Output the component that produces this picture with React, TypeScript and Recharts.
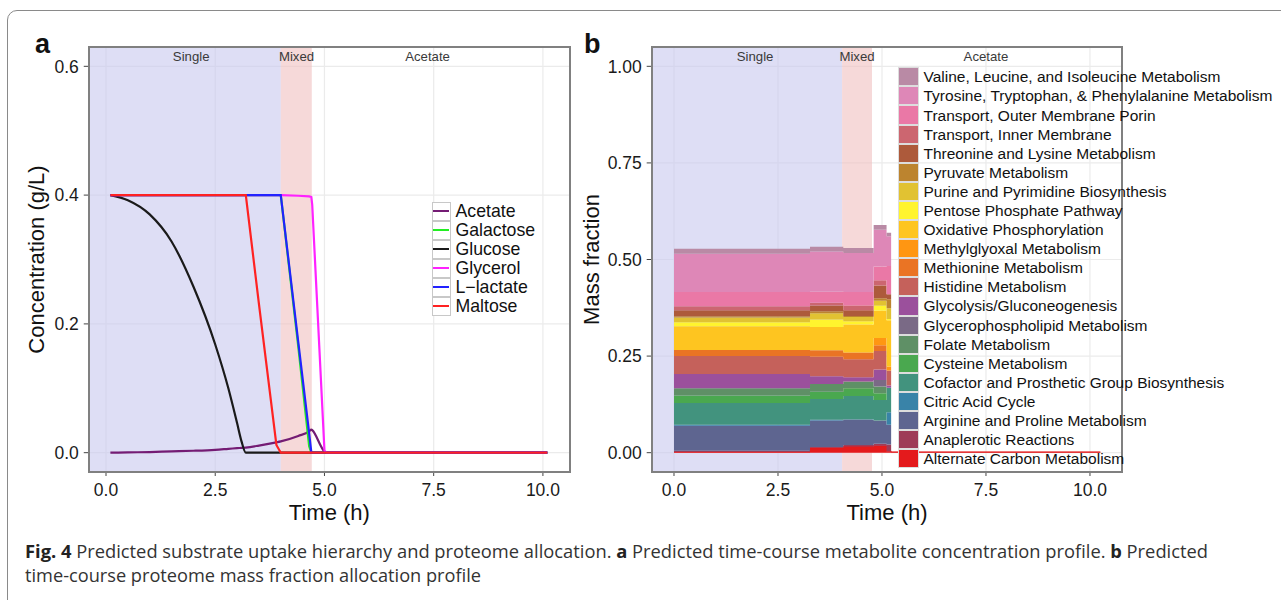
import React from "react";
import {
  ComposedChart,
  AreaChart,
  Area,
  Line,
  XAxis,
  YAxis,
  CartesianGrid,
  ReferenceArea,
  ReferenceLine,
} from "recharts";

const FONT = '"Liberation Sans", Arial, Helvetica, sans-serif';

// ---------- panel a: metabolite concentrations ----------
const timesA = [
  0.1, 0.5, 1.0, 1.5, 2.0, 2.5, 2.8, 3.0, 3.1, 3.2, 3.5, 3.9, 4.0, 4.4, 4.65,
  4.7, 4.72, 5.0, 5.05, 6.0, 7.5, 10.1,
];
const acetate = [
  0, 0.0005, 0.001, 0.002, 0.003, 0.0045, 0.006, 0.007, 0.0075, 0.008, 0.011,
  0.016, 0.0175, 0.026, 0.033, 0.036, 0.035, 0.002, 0, 0, 0, 0,
];
const galactose = [
  0.4, 0.4, 0.4, 0.4, 0.4, 0.4, 0.4, 0.4, 0.4, 0.4, 0.4, 0.4, 0.4, 0.165, 0.01,
  0, 0, 0, 0, 0, 0, 0,
];
const glucose = [
  0.4, 0.392, 0.37, 0.328, 0.258, 0.168, 0.1, 0.046, 0.018, 0, 0, 0, 0, 0, 0, 0,
  0, 0, 0, 0, 0, 0,
];
const glycerol = [
  0.4, 0.4, 0.4, 0.4, 0.4, 0.4, 0.4, 0.4, 0.4, 0.4, 0.4, 0.4, 0.4, 0.399, 0.398,
  0.397, 0.385, 0.003, 0, 0, 0, 0,
];
const lactate = [
  0.4, 0.4, 0.4, 0.4, 0.4, 0.4, 0.4, 0.4, 0.4, 0.4, 0.4, 0.4, 0.4, 0.172, 0.03,
  0, 0, 0, 0, 0, 0, 0,
];
const maltose = [
  0.4, 0.4, 0.4, 0.4, 0.4, 0.4, 0.4, 0.4, 0.4, 0.4, 0.231, 0.012, 0, 0, 0, 0,
  0, 0, 0, 0, 0, 0,
];

const seriesA = [
  { name: "Acetate", values: acetate, color: "#741c74", curve: "monotone" },
  { name: "Galactose", values: galactose, color: "#22ee22", curve: "linear" },
  { name: "Glucose", values: glucose, color: "#1a1a1a", curve: "monotone" },
  { name: "Glycerol", values: glycerol, color: "#ff22ff", curve: "linear" },
  { name: "L\u2212lactate", values: lactate, color: "#2222ff", curve: "linear" },
  { name: "Maltose", values: maltose, color: "#ff2222", curve: "linear" },
];

const rowsA = timesA.map((t, i) => {
  const row: Record<string, number> = { t };
  seriesA.forEach((s) => (row[s.name] = s.values[i]));
  return row;
});

// ---------- panel b: proteome mass fractions ----------
const timesB = [0, 3.27, 4.07, 4.8, 5.11, 5.22, 10.25];
const alternateCarbon = [0.002, 0.0126, 0.016, 0.018, 0.004, 0.002, 0.002];
const anaplerotic = [0.003, 0.002, 0.004, 0.005, 0.017, 0, 0];
const arginine = [0.065, 0.0684, 0.065, 0.06, 0.0515, 0, 0];
const citricAcid = [0.0022, 0.002, 0.0018, 0, 0.032, 0, 0];
const cofactor = [0.0567, 0.054, 0.0602, 0.0536, 0.0635, 0, 0];
const cysteine = [0.0188, 0.019, 0.0197, 0.0174, 0, 0, 0];
const folate = [0.019, 0.02, 0.0173, 0.017, 0, 0, 0];
const glycerophospholipid = [0, 0, 0, 0.017, 0, 0, 0];
const glycolysis = [0.0369, 0.02, 0.011, 0.0276, 0.006, 0, 0];
const histidine = [0.0464, 0.05, 0.047, 0.0474, 0.0386, 0, 0];
const methionine = [0.0155, 0.017, 0.0175, 0.015, 0, 0, 0];
const methylglyoxal = [0, 0, 0, 0.019, 0.0104, 0, 0];
const oxidative = [0.0615, 0.0605, 0.0725, 0.071, 0.12, 0, 0];
const pentose = [0.0106, 0.0195, 0.008, 0.012, 0.003, 0, 0];
const purine = [0.0124, 0.016, 0.011, 0.0135, 0.028, 0, 0];
const pyruvate = [0.003, 0.005, 0.003, 0.0065, 0.023, 0, 0];
const threonine = [0.0156, 0.015, 0.0146, 0.033, 0.013, 0, 0];
const innerMembrane = [0.0104, 0.007, 0.0124, 0.013, 0, 0, 0];
const outerPorin = [0.037, 0.0295, 0.035, 0.036, 0.073, 0, 0];
const tyrosine = [0.099, 0.1035, 0.101, 0.095, 0.0775, 0, 0];
const valine = [0.013, 0.012, 0.013, 0.012, 0.0085, 0, 0];

// bottom of the stack first
const layersB = [
  { name: "Alternate Carbon Metabolism", values: alternateCarbon, color: "#e41a1c" },
  { name: "Anaplerotic Reactions", values: anaplerotic, color: "#9e3b57" },
  { name: "Arginine and Proline Metabolism", values: arginine, color: "#5e6590" },
  { name: "Citric Acid Cycle", values: citricAcid, color: "#3983a8" },
  { name: "Cofactor and Prosthetic Group Biosynthesis", values: cofactor, color: "#42937e" },
  { name: "Cysteine Metabolism", values: cysteine, color: "#4aa84f" },
  { name: "Folate Metabolism", values: folate, color: "#5f9066" },
  { name: "Glycerophospholipid Metabolism", values: glycerophospholipid, color: "#7a6a86" },
  { name: "Glycolysis/Gluconeogenesis", values: glycolysis, color: "#9b509c" },
  { name: "Histidine Metabolism", values: histidine, color: "#c5615b" },
  { name: "Methionine Metabolism", values: methionine, color: "#ea7424" },
  { name: "Methylglyoxal Metabolism", values: methylglyoxal, color: "#ff9612" },
  { name: "Oxidative Phosphorylation", values: oxidative, color: "#fec520" },
  { name: "Pentose Phosphate Pathway", values: pentose, color: "#fff42e" },
  { name: "Purine and Pyrimidine Biosynthesis", values: purine, color: "#e1c232" },
  { name: "Pyruvate Metabolism", values: pyruvate, color: "#bc842f" },
  { name: "Threonine and Lysine Metabolism", values: threonine, color: "#ad5a3b" },
  { name: "Transport, Inner Membrane", values: innerMembrane, color: "#cc6670" },
  { name: "Transport, Outer Membrane Porin", values: outerPorin, color: "#ea78a6" },
  { name: "Tyrosine, Tryptophan, & Phenylalanine Metabolism", values: tyrosine, color: "#de87b7" },
  { name: "Valine, Leucine, and Isoleucine Metabolism", values: valine, color: "#b98aa5" },
];

const rowsB = timesB.map((t, i) => {
  const row: Record<string, number> = { t };
  layersB.forEach((l) => (row[l.name] = l.values[i]));
  return row;
});

// phases: [start, end] in hours, and where their labels sit
const phaseSingleA = [-0.395, 4.0];
const phaseMixedA = [4.0, 4.71];
const phaseSingleB = [-0.536, 4.04];
const phaseMixedB = [4.04, 4.76];
const phaseLabelsA = [
  { text: "Single", t: 1.95 },
  { text: "Mixed", t: 4.36 },
  { text: "Acetate", t: 7.36 },
];
const phaseLabelsB = [
  { text: "Single", t: 1.95 },
  { text: "Mixed", t: 4.4 },
  { text: "Acetate", t: 7.5 },
];

const xTicks = [0, 2.5, 5, 7.5, 10];
const yTicksA = [0, 0.2, 0.4, 0.6];
const yTicksB = [0, 0.25, 0.5, 0.75, 1];

const tickStyle = { fontSize: 17.5, fill: "#1a1a1a", fontFamily: FONT };
const SINGLE_FILL = "#c8c8ee";
const MIXED_FILL = "#f0c0c0";

const phaseLabelStyle = {
  position: "insideTop" as const,
  offset: 5,
  fontSize: 13.2,
  fill: "#3a3a3a",
  fontFamily: FONT,
};

function PanelA() {
  return (
    <div style={{ position: "absolute", left: 0, top: 0 }}>
      <ComposedChart
        width={600}
        height={530}
        data={rowsA}
        margin={{ top: 47, right: 30, bottom: 0, left: 28.75 }}
      >
        <CartesianGrid stroke="#ebebeb" strokeWidth={1.2} />
        <ReferenceArea
          x1={phaseSingleA[0]}
          x2={phaseSingleA[1]}
          fill={SINGLE_FILL}
          fillOpacity={0.6}
          stroke="none"
        />
        <ReferenceArea
          x1={phaseMixedA[0]}
          x2={phaseMixedA[1]}
          fill={MIXED_FILL}
          fillOpacity={0.6}
          stroke="none"
        />
        {phaseLabelsA.map((p) => (
          <ReferenceLine
            key={p.text}
            x={p.t}
            stroke="none"
            label={{ value: p.text, ...phaseLabelStyle }}
          />
        ))}
        <XAxis
          dataKey="t"
          type="number"
          domain={[-0.395, 10.62]}
          ticks={xTicks}
          tickFormatter={(v: number) => v.toFixed(1)}
          allowDataOverflow
          height={58}
          axisLine={false}
          tickSize={4}
          tickMargin={8}
          tickLine={{ stroke: "#444" }}
          tick={tickStyle}
        />
        <YAxis
          type="number"
          domain={[-0.03, 0.63]}
          ticks={yTicksA}
          tickFormatter={(v: number) => v.toFixed(1)}
          allowDataOverflow
          width={60}
          axisLine={false}
          tickSize={5}
          tickMargin={5}
          tickLine={{ stroke: "#444" }}
          tick={tickStyle}
        />
        {seriesA.map((s) => (
          <Line
            key={s.name}
            dataKey={s.name}
            type={s.curve as "linear" | "monotone"}
            stroke={s.color}
            strokeWidth={2.2}
            dot={false}
            isAnimationActive={false}
          />
        ))}
      </ComposedChart>
      <div
        style={{
          position: "absolute",
          left: 88,
          top: 46,
          width: 483,
          height: 427,
          boxSizing: "border-box",
          border: "2px solid #808080",
        }}
      />
      <div style={{ position: "absolute", left: 431.5, top: 201.5 }}>
        {seriesA.map((s) => (
          <div key={s.name} style={{ display: "flex", alignItems: "center", height: 19 }}>
            <div
              style={{
                width: 19,
                height: 19,
                boxSizing: "border-box",
                border: "1.5px solid #c8c8c8",
                background: "#fff",
                display: "flex",
                alignItems: "center",
                justifyContent: "center",
              }}
            >
              <div style={{ width: 16, height: 2.6, background: s.color }} />
            </div>
            <span
              style={{
                marginLeft: 5,
                fontFamily: FONT,
                fontSize: 17.7,
                color: "#111",
                whiteSpace: "nowrap",
                lineHeight: "19px",
              }}
            >
              {s.name}
            </span>
          </div>
        ))}
      </div>
    </div>
  );
}

function PanelB() {
  return (
    <div style={{ position: "absolute", left: 560, top: 0 }}>
      <AreaChart
        width={600}
        height={530}
        data={rowsB}
        margin={{ top: 47, right: 38, bottom: 0, left: 31.7 }}
      >
        <CartesianGrid stroke="#ebebeb" strokeWidth={1.2} />
        <ReferenceArea
          x1={phaseSingleB[0]}
          x2={phaseSingleB[1]}
          fill={SINGLE_FILL}
          fillOpacity={0.6}
          stroke="none"
        />
        <ReferenceArea
          x1={phaseMixedB[0]}
          x2={phaseMixedB[1]}
          fill={MIXED_FILL}
          fillOpacity={0.6}
          stroke="none"
        />
        {phaseLabelsB.map((p) => (
          <ReferenceLine
            key={p.text}
            x={p.t}
            stroke="none"
            label={{ value: p.text, ...phaseLabelStyle }}
          />
        ))}
        <XAxis
          dataKey="t"
          type="number"
          domain={[-0.536, 10.77]}
          ticks={xTicks}
          tickFormatter={(v: number) => v.toFixed(1)}
          allowDataOverflow
          height={58}
          axisLine={false}
          tickSize={4}
          tickMargin={8}
          tickLine={{ stroke: "#444" }}
          tick={tickStyle}
        />
        <YAxis
          type="number"
          domain={[-0.05, 1.05]}
          ticks={yTicksB}
          tickFormatter={(v: number) => v.toFixed(2)}
          allowDataOverflow
          width={60}
          axisLine={false}
          tickSize={5}
          tickMargin={5}
          tickLine={{ stroke: "#444" }}
          tick={tickStyle}
        />
        {layersB.map((l, i) => (
          <Area
            key={l.name}
            dataKey={l.name}
            stackId="mass"
            type="stepAfter"
            fill={l.color}
            fillOpacity={1}
            stroke={i === 0 ? l.color : "none"}
            strokeWidth={i === 0 ? 1 : 0}
            isAnimationActive={false}
          />
        ))}
      </AreaChart>
      <div
        style={{
          position: "absolute",
          left: 91,
          top: 46,
          width: 472,
          height: 427,
          boxSizing: "border-box",
          border: "2px solid #808080",
        }}
      />
      <div style={{ position: "absolute", left: 338, top: 67.3 }}>
        {[...layersB].reverse().map((l) => (
          <div key={l.name} style={{ display: "flex", alignItems: "center", height: 19.1 }}>
            <div
              style={{
                width: 20.5,
                height: 19.1,
                boxSizing: "border-box",
                border: "1px solid #dddddd",
                background: l.color,
              }}
            />
            <span
              style={{
                marginLeft: 5,
                fontFamily: FONT,
                fontSize: 15.5,
                color: "#111",
                whiteSpace: "nowrap",
                lineHeight: "19px",
              }}
            >
              {l.name}
            </span>
          </div>
        ))}
      </div>
    </div>
  );
}

export default function App() {
  return (
    <div
      style={{
        position: "absolute",
        left: 0,
        top: 0,
        width: 1281,
        height: 600,
        overflow: "hidden",
        background: "#fff",
      }}
    >
      <div
        style={{
          position: "absolute",
          left: 7,
          top: 10,
          width: 1320,
          height: 700,
          border: "1.5px solid #8a8a8a",
          borderRadius: 10,
        }}
      />
      <PanelA />
      <PanelB />
      <svg
        width={1281}
        height={600}
        style={{ position: "absolute", left: 0, top: 0, pointerEvents: "none" }}
      >
        <g fontFamily={FONT} fill="#111">
          <text x={35} y={53} fontSize={27} fontWeight="bold">
            a
          </text>
          <text x={584} y={53} fontSize={27} fontWeight="bold">
            b
          </text>
          <text x={329.4} y={520} fontSize={22} textAnchor="middle">
            Time (h)
          </text>
          <text x={887} y={520} fontSize={22} textAnchor="middle">
            Time (h)
          </text>
          <text
            transform="translate(43.5,259.5) rotate(-90)"
            fontSize={22}
            textAnchor="middle"
          >
            Concentration (g/L)
          </text>
          <text
            transform="translate(598.5,259.5) rotate(-90)"
            fontSize={22}
            textAnchor="middle"
          >
            Mass fraction
          </text>
        </g>
        <g fontFamily='"Open Sans", sans-serif' fontSize={18} fill="#333">
          <text x={25} y={557.5} textLength={1183} lengthAdjust="spacingAndGlyphs">
            <tspan fontWeight="bold" fill="#222">
              Fig. 4
            </tspan>
            {" Predicted substrate uptake hierarchy and proteome allocation. "}
            <tspan fontWeight="bold" fill="#222">
              a
            </tspan>
            {" Predicted time-course metabolite concentration profile. "}
            <tspan fontWeight="bold" fill="#222">
              b
            </tspan>
            {" Predicted"}
          </text>
          <text x={25} y={582} textLength={456} lengthAdjust="spacingAndGlyphs">
            time-course proteome mass fraction allocation profile
          </text>
        </g>
      </svg>
    </div>
  );
}
